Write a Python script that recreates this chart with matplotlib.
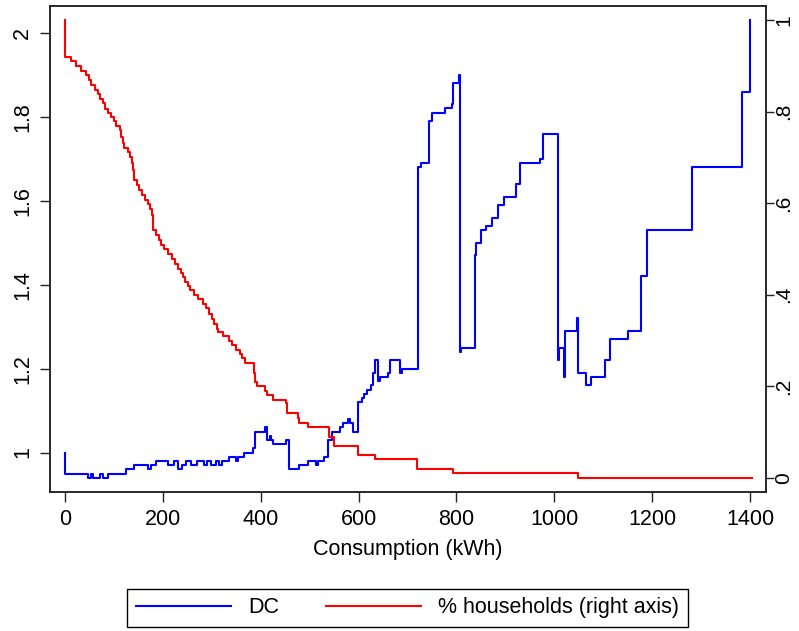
import matplotlib
matplotlib.use("Agg")
import matplotlib.pyplot as plt

plt.rcParams['font.family'] = ['Liberation Sans', 'DejaVu Sans']
plt.rcParams['font.size'] = 15.5

# DC by consumption (left axis), step points
dc_kwh = [0, 0, 47.5, 54, 58.5, 72, 78, 88, 125.5, 142, 171, 176.5, 186.5, 210,
          223.5, 232, 240.5, 247.5, 257.5, 271, 285, 291.5, 298.5, 308.5, 315, 322,
          335.5, 350, 353, 366, 384, 388, 409, 414, 418.5, 422, 425, 451, 458, 478,
          497, 513, 517, 528.5, 537.5, 546, 562, 569, 578, 582, 589, 598, 607, 612,
          617, 626, 630, 634, 639, 644, 661, 664, 684, 689, 721, 728, 744, 751, 776,
          790, 793, 806, 808, 810, 838.4, 839.7, 850.6, 860, 872, 884, 898, 921.6,
          930, 970, 977, 1008, 1009, 1020, 1021, 1047, 1048, 1064, 1074, 1103, 1113,
          1150, 1177, 1189, 1280, 1384, 1400]
dc_val = [1.00, 0.95, 0.94, 0.95, 0.94, 0.95, 0.94, 0.95, 0.96, 0.97, 0.96, 0.97, 0.98, 0.97,
          0.98, 0.96, 0.97, 0.98, 0.97, 0.98, 0.97, 0.98, 0.97, 0.98, 0.97, 0.98,
          0.99, 0.98, 0.99, 1.00, 1.01, 1.05, 1.06, 1.03, 1.04, 1.03, 1.02, 1.03, 0.96, 0.97,
          0.98, 0.97, 0.98, 0.99, 1.03, 1.05, 1.06, 1.07, 1.08, 1.07, 1.05, 1.12, 1.13, 1.14,
          1.15, 1.16, 1.19, 1.22, 1.17, 1.18, 1.19, 1.22, 1.19, 1.20, 1.68, 1.69, 1.79, 1.81, 1.82,
          1.83, 1.88, 1.90, 1.24, 1.25, 1.47, 1.50, 1.53, 1.54, 1.56, 1.59, 1.61, 1.64,
          1.69, 1.70, 1.76, 1.22, 1.25, 1.18, 1.29, 1.32, 1.19, 1.16, 1.18, 1.22, 1.27,
          1.29, 1.42, 1.53, 1.68, 1.86, 2.03]

# share of households (right axis)
hh_kwh = [0, 0, 13.6, 23.7, 33.9, 44, 49.5, 54, 61, 67.8, 73, 78, 83, 88, 95, 101.7, 105,
          112, 115, 120, 122, 129, 133.5, 137, 139, 142, 147, 152.5, 158, 163, 169.5, 174,
          178, 181, 186, 192, 197, 203, 210, 220, 225, 230.5, 237, 242, 246, 251, 255.6,
          264, 273, 283, 289.5, 295, 300, 305, 310, 314, 323, 335.6, 342, 350.5, 357,
          362.6, 369, 386, 389, 392, 409, 414, 425, 451, 454, 476.6, 479, 497, 539, 550.5,
          598, 634, 719, 792, 1049, 1403]
hh_val = [1.0, 0.92, 0.91, 0.90, 0.89, 0.88, 0.869, 0.858, 0.847, 0.838, 0.827, 0.818, 0.807,
          0.797, 0.789, 0.779, 0.769, 0.760, 0.745, 0.732, 0.721, 0.711, 0.701, 0.687, 0.672,
          0.650, 0.639, 0.628, 0.618, 0.608, 0.599, 0.588, 0.574, 0.541, 0.530, 0.519, 0.508,
          0.499, 0.490, 0.479, 0.468, 0.457, 0.448, 0.439, 0.428, 0.419, 0.410, 0.400, 0.390,
          0.379, 0.370, 0.359, 0.348, 0.337, 0.326, 0.319, 0.310, 0.299, 0.290, 0.280, 0.270,
          0.261, 0.250, 0.230, 0.210, 0.200, 0.190, 0.182, 0.170, 0.163, 0.141, 0.130, 0.120,
          0.110, 0.090, 0.070, 0.050, 0.041, 0.020, 0.011, 0.0, 0.0]

x_ticks = [0, 200, 400, 600, 800, 1000, 1200, 1400]
left_ticks = [1, 1.2, 1.4, 1.6, 1.8, 2]
left_labels = ["1", "1.2", "1.4", "1.6", "1.8", "2"]
right_ticks = [0, 0.2, 0.4, 0.6, 0.8, 1]
right_labels = ["0", ".2", ".4", ".6", ".8", "1"]

fig = plt.figure(figsize=(7.99, 6.31), dpi=100)
ax = fig.add_axes([50 / 799, 139 / 631, 716 / 799, 486 / 631])
ax2 = ax.twinx()

l1, = ax.plot(dc_kwh, dc_val, drawstyle='steps-post', color='#0000ff', lw=1.5, label='DC')
l2, = ax2.plot(hh_kwh, hh_val, drawstyle='steps-post', color='#ff0000', lw=1.5,
               label='% households (right axis)')

ax.set_xlim(-30, 1432)
ax.set_ylim(0.906, 2.064)
ax2.set_ylim(-0.031, 1.031)

ax.set_xticks(x_ticks)
ax.set_yticks(left_ticks)
ax.set_yticklabels(left_labels, rotation=90, va='center')
ax2.set_yticks(right_ticks)
ax2.set_yticklabels(right_labels, rotation=90, va='center', fontsize=15)

ax.tick_params(length=7, width=1, color='#222222', pad=5)
ax2.tick_params(length=6, width=1, color='#222222', pad=0)
for a in (ax, ax2):
    for s in a.spines.values():
        s.set_linewidth(1.1)
        s.set_color('#222222')

ax.set_xlabel('Consumption (kWh)', labelpad=7)

fig.legend([l1, l2], ['DC', '% households (right axis)'], loc='center',
           bbox_to_anchor=(0.51, 0.037), ncol=2, fancybox=False, edgecolor='black',
           handlelength=4.4, columnspacing=2.2, borderpad=0.4, framealpha=1)

fig.savefig('out.png', dpi=100)
